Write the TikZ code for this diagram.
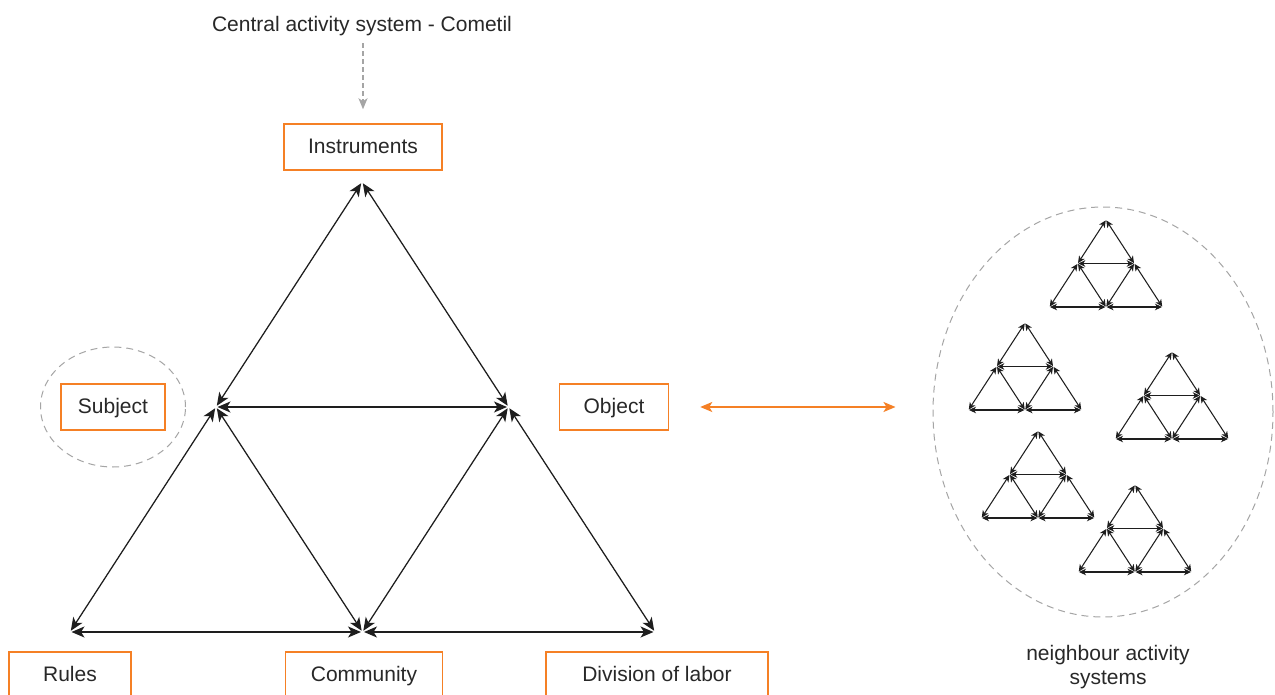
\documentclass[tikz,border=0pt]{standalone}
\usepackage{fontspec}
\setmainfont{Liberation Sans}
\usetikzlibrary{arrows.meta,shapes.geometric}
\definecolor{boxorange}{RGB}{245,128,37}
\definecolor{txt}{RGB}{40,40,40}
\definecolor{dashgray}{RGB}{165,165,165}
\definecolor{linec}{RGB}{30,30,30}
\tikzset{
  lbl/.style={font=\fontsize{21}{24.5}\selectfont, text=txt},
  obox/.style={lbl, draw=boxorange, line width=1.5pt, minimum height=46pt, inner sep=0pt, text height=16pt, text depth=3.4pt, anchor=center},
  mainarrow/.style={{Stealth[length=13pt,width=11pt,inset=3.5pt]}-{Stealth[length=13pt,width=11pt,inset=3.5pt]}, line width=1.25pt, draw=linec, fill=linec, shorten <=1.5pt, shorten >=1.5pt},
  miniarrow/.style={{Stealth[length=7pt,width=6.5pt,inset=2pt]}-{Stealth[length=7pt,width=6.5pt,inset=2pt]}, line width=1.05pt, draw=linec, shorten <=0.5pt, shorten >=0.5pt},
  dashring/.style={draw=dashgray, line width=1pt, dash pattern=on 7pt off 5pt},
  mini/.pic={
    \coordinate (-t) at (0,0);
    \coordinate (-l) at (-28.25,43.5);
    \coordinate (-r) at (28.25,43.5);
    \coordinate (-bl) at (-56.5,87);
    \coordinate (-bm) at (0,87);
    \coordinate (-br) at (56.5,87);
    \foreach \a/\b in {t/l,t/r,l/r,l/bl,l/bm,r/bm,r/br,bl/bm,bm/br}
      \draw[miniarrow] (-\a) -- (-\b);
  }
}
\begin{document}
\begin{tikzpicture}[x=1pt,y=-1pt]
\useasboundingbox (0,0) rectangle (1275,695);
\fill[white] (0,0) rectangle (1275,695);

% title and gray arrow
\node[lbl, inner sep=0pt, anchor=base] (title) at (362,31.5) {Central activity system - Cometil};
\node[obox, minimum width=158pt] (instr) at (363,147) {Instruments};
\draw[draw=dashgray, line width=1.6pt, dash pattern=on 5pt off 3pt, -{Stealth[length=11pt,width=9pt,inset=3pt]}, shorten <=7pt, shorten >=14pt] (title.south -| instr.north) -- (instr.north);

% boxes
\node[obox, minimum width=104pt] (subj) at (113,407) {Subject};
\node[obox, minimum width=109pt] (obj) at (614,407) {Object};
\node[obox, minimum width=122pt] (rules) at (70,675) {Rules};
\node[obox, minimum width=157pt] (comm) at (364,675) {Community};
\node[obox, minimum width=222pt] (div) at (657,675) {Division of labor};

% dashed ring around subject
\node[ellipse, dashring, minimum width=145pt, minimum height=120pt, inner sep=0pt] (subjring) at (113,407) {};

% main triangle
\coordinate (T) at (362,182);
\coordinate (L) at (216,407);
\coordinate (R) at (508.5,407);
\coordinate (BL) at (70,632);
\coordinate (BM) at (362.5,632);
\coordinate (BR) at (655,632);
\foreach \a/\b in {T/L,T/R,L/R,L/BL,L/BM,R/BM,R/BR,BL/BM,BM/BR}
  \draw[mainarrow] (\a) -- (\b);

% neighbour systems
\node[ellipse, dashring, minimum width=340pt, minimum height=410pt, inner sep=0pt] (nbr) at (1103,412) {};
\draw[draw=boxorange, line width=1.6pt, {Stealth[length=12pt,width=10pt,inset=3pt]}-{Stealth[length=12pt,width=10pt,inset=3pt]}, shorten <=31pt, shorten >=37pt] (obj.east) -- (obj.east -| nbr.west);

\pic (m1) at (1106,220) {mini};
\pic (m2) at (1025,323) {mini};
\pic (m3) at (1172,352) {mini};
\pic (m4) at (1038,431) {mini};
\pic (m5) at (1135,485) {mini};

\node[lbl, align=center, inner sep=0pt, anchor=north] (nbrlbl) at (1108,645) {neighbour activity\\systems};
\end{tikzpicture}
\end{document}
